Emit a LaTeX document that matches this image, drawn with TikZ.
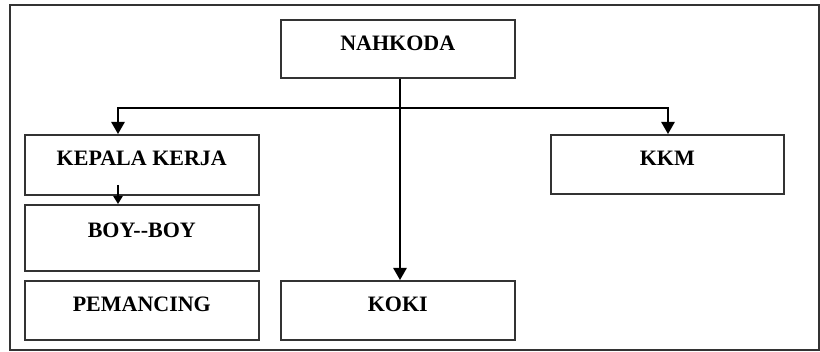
\documentclass[tikz,border=0pt]{standalone}
\usepackage{fontspec}
\setmainfont{Liberation Serif}
\usetikzlibrary{arrows.meta}
\tikzset{
  box/.style={draw=black!80, line width=1.2pt, anchor=north west, inner sep=0pt,
    font=\fontsize{16.5}{18}\selectfont\bfseries, text height=23pt, align=center},
  conn/.style={draw=black, line width=1.2pt},
  tip/.style={-{Triangle[width=10pt,length=9pt]}},
  smalltip/.style={-{Triangle[width=7pt,length=6pt]}}
}
\begin{document}
\begin{tikzpicture}[x=0.75pt,y=-0.75pt]
\useasboundingbox (0,0) rectangle (820,352);
\draw[line width=1.2pt, draw=black!80] (10,5) rectangle (819,350);
\node[box, minimum width=234*0.75pt, minimum height=58*0.75pt, text depth=27*0.75pt] (nahkoda) at (280,19) {NAHKODA};
\node[box, minimum width=234*0.75pt, minimum height=60*0.75pt, text depth=29*0.75pt] (kepala) at (24,134) {KEPALA KERJA};
\node[box, minimum width=233*0.75pt, minimum height=59*0.75pt, text depth=28*0.75pt] (kkm) at (550,134) {KKM};
\node[box, minimum width=234*0.75pt, minimum height=66*0.75pt, text depth=32*0.75pt] (boy) at (24,204) {BOY-{}-BOY};
\node[box, minimum width=234*0.75pt, minimum height=59*0.75pt, text depth=28*0.75pt] (pemancing) at (24,280) {PEMANCING};
\node[box, minimum width=234*0.75pt, minimum height=59*0.75pt, text depth=28*0.75pt] (koki) at (280,280) {KOKI};
\coordinate (hl) at (118,108);
\coordinate (hc) at (400,108);
\coordinate (hr) at (668,108);
\coordinate (ks) at (118,185);
\draw[conn, tip] (nahkoda.south -| hc) -- (hc |- koki.north);
\draw[conn, tip] (hc) -- (hl) -- (hl |- kepala.north);
\draw[conn, tip] (hc) -- (hr) -- (hr |- kkm.north);
\draw[conn, smalltip] (ks) -- (ks |- boy.north);
\end{tikzpicture}
\end{document}
